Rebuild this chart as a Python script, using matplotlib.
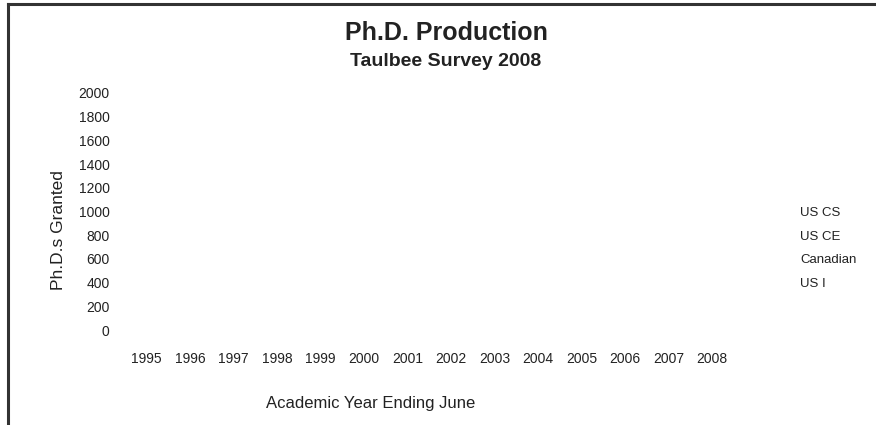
import numpy as np
import matplotlib.pyplot as plt
from matplotlib.lines import Line2D
from matplotlib import font_manager

# Chart data (the reference shows the frame of the chart only, no bars)
years = ['1995', '1996', '1997', '1998', '1999', '2000', '2001',
         '2002', '2003', '2004', '2005', '2006', '2007', '2008']
series = ['US CS', 'US CE', 'Canadian', 'US I']
y_ticks = [0, 200, 400, 600, 800, 1000, 1200, 1400, 1600, 1800, 2000]
values = {s: [np.nan] * len(years) for s in series}

names = {f.name for f in font_manager.fontManager.ttflist}
font = 'Liberation Sans Narrow' if 'Liberation Sans Narrow' in names else 'Liberation Sans'
plt.rcParams['font.family'] = [font, 'DejaVu Sans']

fig = plt.figure(figsize=(8.76, 4.25), dpi=100)
ax = fig.add_axes([125 / 876, 95 / 425, 609 / 876, 237 / 425])

x = np.arange(len(years))
w = 0.8 / len(series)
for i, s in enumerate(series):
    ax.bar(x + (i - 1.5) * w, values[s], w, label=s)

ax.set_xlim(-0.5, len(years) - 0.5)
ax.set_ylim(0, 2000)
ax.set_xticks(x)
ax.set_xticklabels(years, fontsize=10)
ax.set_yticks(y_ticks)
ax.set_yticklabels([str(v) for v in y_ticks], fontsize=10)
ax.tick_params(length=0, pad=11, colors='#222222')
ax.tick_params(axis='x', pad=16)
for sp in ax.spines.values():
    sp.set_visible(False)

ax.set_xlabel('Academic Year Ending June', fontsize=12, color='#222222')
ax.xaxis.set_label_coords(246 / 609, -66 / 237)
ax.set_ylabel('Ph.D.s Granted', fontsize=12.5, color='#222222')
ax.yaxis.set_label_coords(-59 / 609, 100 / 237)

fig.text(446 / 876, 1 - 33 / 425, 'Ph.D. Production', ha='center', va='center',
         fontsize=18, fontweight='bold', color='#222222')
fig.text(446 / 876, 1 - 62 / 425, 'Taulbee Survey 2008', ha='center', va='center',
         fontsize=14, fontweight='bold', color='#222222')

# legend: names only, no swatches
for i, s in enumerate(series):
    fig.text(800 / 876, 1 - (213 + i * 23.6) / 425, s, ha='left', va='center',
             fontsize=9.5, color='#222222')

# frame lines on top and left
fig.add_artist(Line2D([8 / 876, 8 / 876], [0, 1 - 4 / 425], color='#333333', lw=2.2))
fig.add_artist(Line2D([8 / 876, 1], [1 - 4 / 425, 1 - 4 / 425], color='#333333', lw=2.2))

fig.savefig('out.png', dpi=100)
